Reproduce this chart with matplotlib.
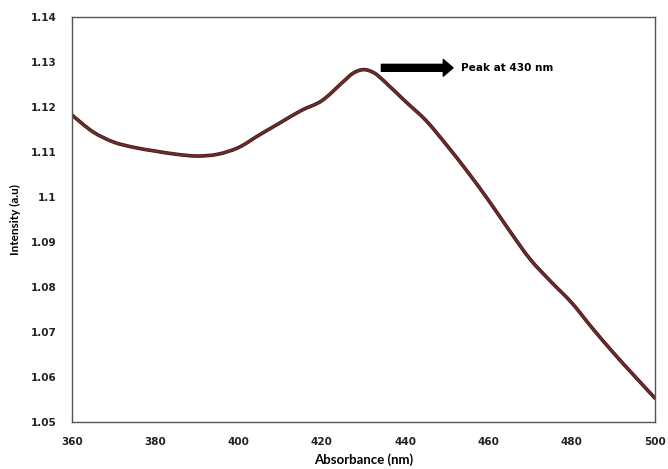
import matplotlib
matplotlib.use('Agg')
import matplotlib.pyplot as plt
import matplotlib.patheffects as pe
from matplotlib.path import Path
from matplotlib.patches import PathPatch
import numpy as np

# wavelength (nm) and intensity
wavelength = [360, 365, 370, 375, 380, 385, 390, 395, 400, 405, 410, 415, 420, 425,
              427.5, 430, 432.5, 435, 440, 445, 450, 455, 460, 465, 470, 475, 480,
              485, 490, 495, 500]
intensity = [1.1182, 1.1145, 1.1122, 1.1110, 1.1102, 1.1095, 1.1091, 1.1095, 1.1110,
             1.1138, 1.1165, 1.1192, 1.1214, 1.1255, 1.1275, 1.1283, 1.1276, 1.1257,
             1.1213, 1.1170, 1.1115, 1.1056, 1.0993, 1.0926, 1.0862, 1.0812, 1.0765,
             1.0708, 1.0654, 1.0603, 1.0553]
x_ticks = [360, 380, 400, 420, 440, 460, 480, 500]
y_ticks = [1.05, 1.06, 1.07, 1.08, 1.09, 1.1, 1.11, 1.12, 1.13, 1.14]
y_tick_labels = ['1.05', '1.06', '1.07', '1.08', '1.09', '1.1', '1.11', '1.12', '1.13', '1.14']
peak_label = 'Peak at 430 nm'


def smooth_path(xs, ys):
    # Excel-like smoothed line: Catmull-Rom turned into cubic bezier segments
    pts = np.column_stack([xs, ys])
    verts = [pts[0]]
    codes = [Path.MOVETO]
    n = len(pts)
    for i in range(n - 1):
        p0 = pts[max(i - 1, 0)]
        p1 = pts[i]
        p2 = pts[i + 1]
        p3 = pts[min(i + 2, n - 1)]
        c1 = p1 + (p2 - p0) / 6.0
        c2 = p2 - (p3 - p1) / 6.0
        verts += [c1, c2, p2]
        codes += [Path.CURVE4] * 3
    return Path(verts, codes)


fig = plt.figure(figsize=(6.68, 4.69), dpi=100)
ax = fig.add_axes([0.1078, 0.1002, 0.8727, 0.8636])

curve = PathPatch(smooth_path(wavelength, intensity), facecolor='none',
                  edgecolor='#6e2b2b', linewidth=1.6, capstyle='round', joinstyle='round',
                  path_effects=[pe.Stroke(linewidth=2.6, foreground='#3e1414'), pe.Normal()])
ax.add_patch(curve)

ax.set_xlim(360, 500)
ax.set_ylim(1.05, 1.14)
ax.set_xticks(x_ticks)
ax.set_yticks(y_ticks)
ax.set_yticklabels(y_tick_labels)
ax.tick_params(length=0, labelsize=7.5, pad=11)
for lbl in ax.get_xticklabels() + ax.get_yticklabels():
    lbl.set_fontweight('bold')
    lbl.set_family('DejaVu Sans')
    lbl.set_color('#222222')

for s in ax.spines.values():
    s.set_color('#555555')
    s.set_linewidth(1.0)

ax.set_xlabel('Absorbance (nm)', fontsize=9.5, fontweight='bold', family='Lato', va='center')
ax.set_ylabel('Intensity (a.u)', fontsize=8.5, fontweight='bold', family='Lato', va='center')
ax.xaxis.set_label_coords(0.5, -0.094)
ax.yaxis.set_label_coords(-0.097, 0.5)

# arrow pointing toward the label
ax.annotate('', xy=(451.5, 1.1287), xytext=(434.3, 1.1287),
            arrowprops=dict(width=5, headwidth=12, headlength=7, color='black'))
ax.text(453.3, 1.1287, peak_label, fontsize=7.6, fontweight='bold', family='DejaVu Sans',
        va='center', ha='left')

fig.savefig('out.png', dpi=100)
